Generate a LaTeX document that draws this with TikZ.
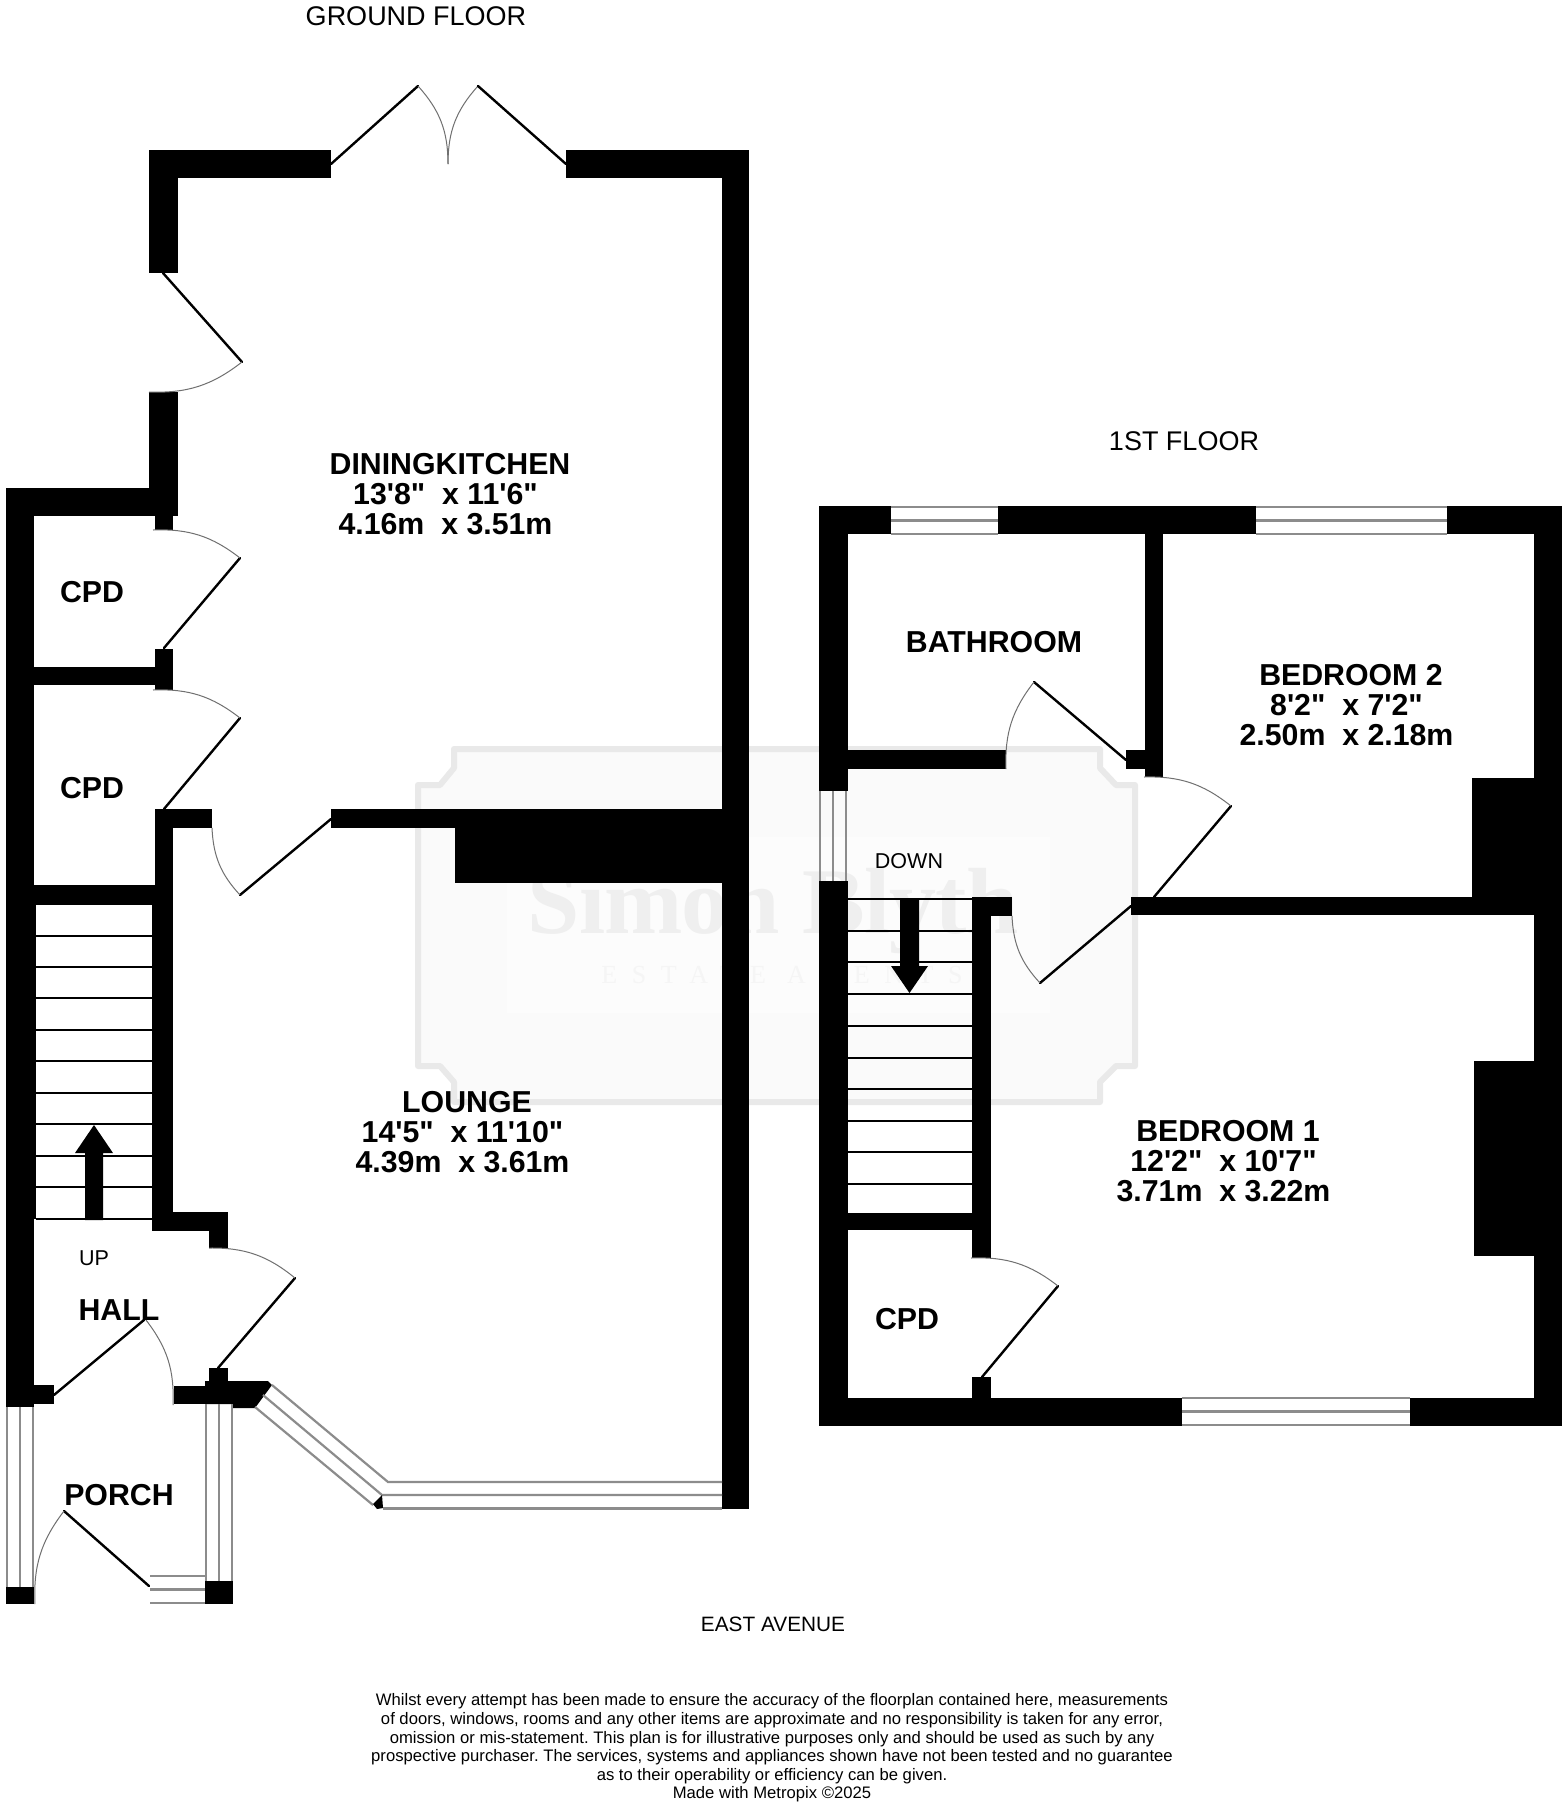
\documentclass[tikz,border=0pt]{standalone}
\usepackage{fontspec}
\setmainfont{Liberation Sans}
\newfontfamily\lab{Liberation Sans}
\newfontfamily\wmserif{Liberation Serif}[LetterSpace=-1]
\newfontfamily\wmspaced{Liberation Serif}[LetterSpace=56]
\definecolor{wing}{HTML}{8C8C8C}
\definecolor{arcc}{HTML}{707070}
\definecolor{wmframe}{HTML}{E9E9E9}
\definecolor{wmfill}{HTML}{FAFAFA}
\definecolor{wmtext}{HTML}{EFEFEF}
\definecolor{wmtextb}{HTML}{F5F5F5}
\tikzset{
  wall/.style={fill=black,draw=none},
  leaf/.style={draw=black,line width=2.4pt,line cap=round},
  swing/.style={draw=arcc,line width=1pt},
  glass/.style={draw=wing,line width=2.2pt},
  tread/.style={draw=black,line width=2pt},
  room/.style={font=\lab\fontsize{30.3}{30}\selectfont\bfseries,align=center,inner sep=0pt,text=black},
  plain/.style={font=\lab\fontsize{27}{29}\selectfont,inner sep=0pt,text=black},
  small/.style={font=\lab\fontsize{21.5}{23}\selectfont,inner sep=0pt,text=black},
  legal/.style={font=\lab\frenchspacing\fontsize{16.65}{18.6}\selectfont,align=center,inner sep=0pt,text=black},
}
\newcommand{\wallbox}[4]{\fill[wall] (#1,#2) rectangle (#3,#4);}
\newcommand{\winv}[4]{\draw[glass] (#1,#3) -- (#1,#4) (#2,#3) -- (#2,#4) ({(#1+#2)/2},#3) -- ({(#1+#2)/2},#4);}
\newcommand{\winh}[4]{\draw[glass] (#1,#3) -- (#2,#3) (#1,#4) -- (#2,#4) (#1,{(#3+#4)/2}) -- (#2,{(#3+#4)/2});}
\newcommand{\sizeline}[1]{\mbox{#1\kern 9pt}}
\begin{document}
\begin{tikzpicture}[x=1pt,y=-1pt]
\useasboundingbox (0,0) rectangle (1568,1808);
\fill[white] (0,0) rectangle (1568,1808);
% watermark
\path[fill=wmfill,draw=wmframe,line width=6pt,line join=round]
  (454,749) -- (1100,749) -- (1100,768) -- (1116,785) -- (1135,785) -- (1135,1066) -- (1116,1066) -- (1100,1082) -- (1100,1102)
  -- (454,1102) -- (454,1082) -- (440,1066) -- (418,1066) -- (418,785) -- (440,785) -- (454,768) -- cycle;
\fill[white!40!wmfill] (507,837) rectangle (1050,1013);
\node[font=\wmserif\fontsize{94}{98}\selectfont\bfseries,text=wmtext,inner sep=0pt,anchor=base] (wmname) at (773,933) {Simon Blyth};
\node[font=\wmspaced\fontsize{26}{28}\selectfont,text=wmtextb,inner sep=0pt,anchor=base] (wmsub) at (782,983) {ESTATE AGENTS};
% ---- ground floor walls
\wallbox{149}{150}{331}{178}
\wallbox{149}{150}{178}{273}
\wallbox{149}{392}{178}{516}
\wallbox{566}{150}{749}{178}
\wallbox{722}{150}{749}{1509}
\wallbox{6}{488}{178}{516}
\wallbox{155}{516}{173}{530}
\wallbox{6}{488}{34}{905}
\wallbox{6}{905}{36}{1219}
\wallbox{6}{1219}{34}{1407}
\wallbox{34}{667}{155}{685}
\wallbox{155}{649}{173}{690}
\wallbox{155}{809}{212}{828}
\wallbox{155}{809}{173}{905}
\wallbox{331}{809}{722}{828}
\wallbox{455}{828}{722}{883}
\wallbox{34}{885}{155}{905}
\wallbox{152}{905}{173}{1231}
\wallbox{155}{1212}{228}{1231}
\wallbox{209}{1212}{228}{1248}
\wallbox{34}{1385}{54}{1404}
\wallbox{174}{1386}{205}{1404}
\wallbox{209}{1368}{228}{1382}
\fill[wall] (205,1381) -- (268,1381) -- (272,1385) -- (255,1408) -- (233,1408) -- (233,1404) -- (205,1404) -- cycle;
\wallbox{6}{1587}{34}{1604}
\wallbox{205}{1581}{233}{1604}
% ground stairs
\foreach \y in {936,967,998,1030,1061,1093,1124,1156,1187,1219} {\draw[tread] (36,\y) -- (153,\y);}
\fill[wall] (85,1220) -- (85,1153) -- (75,1153) -- (94,1125) -- (113,1153) -- (103,1153) -- (103,1220) -- cycle;
% ground windows
\winv{7}{33}{1407}{1587}
\winv{206}{232}{1404}{1581}
\winh{150}{205}{1576}{1603}
\draw[glass] (272,1385) -- (388,1482) -- (722,1482);
\draw[glass] (263,1395) -- (382,1495) -- (722,1495);
\draw[glass] (255,1407) -- (373,1505);
\draw[glass] (383,1508.5) -- (722,1508.5);
\fill[wall] (382,1495) -- (383,1508) -- (377,1509) -- (373,1504) -- cycle;
% ground doors
\draw[leaf] (331,164) -- (418,86);
\draw[swing] (418,86) to[bend left=21] (448,164);
\draw[swing] (448,164) to[bend left=21] (478,86);
\draw[leaf] (478,86) -- (566,164);
\draw[leaf] (163,273) -- (242,362);
\draw[swing] (149,392) to[bend right=20] (242,362);
\draw[leaf] (164,648) -- (240,558);
\draw[swing] (153,530) to[bend left=20] (240,558);
\draw[leaf] (164,809) -- (240,718);
\draw[swing] (153,690) to[bend left=20] (240,718);
\draw[leaf] (331,819) -- (240,895);
\draw[swing] (212,828) to[bend right=20] (240,895);
\draw[leaf] (218,1368) -- (295,1278);
\draw[swing] (209,1248) to[bend left=20] (295,1278);
\draw[leaf] (54,1395) -- (144,1320);
\draw[swing] (146,1320) to[bend left=20] (173,1405);
\draw[leaf] (149,1586) -- (64,1511);
\draw[swing] (35,1604) to[bend left=20] (64,1511);
% ---- first floor walls
\wallbox{819}{506}{891}{534}
\wallbox{997.5}{506}{1256}{534}
\wallbox{1446.5}{506}{1561.5}{534}
\wallbox{819}{506}{848}{791}
\wallbox{819}{881}{848}{1426}
\wallbox{848}{750}{1006}{769}
\wallbox{1145}{534}{1163}{777}
\wallbox{1126}{750}{1145}{769}
\wallbox{1533.5}{506}{1561.5}{1426}
\wallbox{1472}{778}{1533.5}{897}
\wallbox{1474}{1061}{1533.5}{1256}
\wallbox{1131}{897}{1533.5}{915}
\wallbox{972}{897}{1012}{916}
\wallbox{972}{897}{990.5}{1258}
\wallbox{848}{1213}{972}{1230}
\wallbox{971.5}{1377}{990.5}{1398}
\wallbox{819}{1398}{1182}{1426}
\wallbox{1410}{1398}{1561.5}{1426}
% first stairs
\foreach \y in {899,931,962,994,1026,1058,1089,1121,1152,1184} {\draw[tread] (848,\y) -- (972,\y);}
\fill[wall] (900,899) -- (919,899) -- (919,966) -- (928,966) -- (909.5,993) -- (891,966) -- (900,966) -- cycle;
% first windows
\winh{891}{997.5}{507}{534}
\winh{1256}{1446.5}{507}{534}
\winh{1182}{1410}{1398}{1425}
\winv{820}{846}{791}{881}
% first doors
\draw[leaf] (1126,760) -- (1034,682);
\draw[swing] (1006,769) to[bend left=20] (1034,682);
\draw[leaf] (1154,897) -- (1231,806);
\draw[swing] (1144,777) to[bend left=20] (1231,806);
\draw[leaf] (1131,906) -- (1040,983);
\draw[swing] (1012,916) to[bend right=20] (1040,983);
\draw[leaf] (982,1377) -- (1058,1286);
\draw[swing] (971,1258) to[bend left=20] (1058,1286);
% ---- labels
\node[plain] (gf) at (416,16.5) {GROUND FLOOR};
\node[plain] (ff) at (1184,441) {1ST FLOOR};
\node[room] (dining) at (450,494) {DININGKITCHEN\\\sizeline{13'8"~ x 11'6"}\\\sizeline{4.16m~ x 3.51m}};
\node[room] (lounge) at (467,1132) {LOUNGE\\\sizeline{14'5"~ x 11'10"}\\\sizeline{4.39m~ x 3.61m}};
\node[room] (cpda) at (92,592) {CPD};
\node[room] (cpdb) at (92,788) {CPD};
\node[room] (hall) at (119,1310) {HALL};
\node[small] (up) at (94,1258) {UP};
\node[room] (porch) at (119,1495) {PORCH};
\node[room] (bath) at (994,642) {BATHROOM};
\node[room] (bed2) at (1351,705.5) {BEDROOM 2\\\sizeline{8'2"~ x 7'2"}\\\sizeline{2.50m~ x 2.18m}};
\node[room] (bed1) at (1228,1161.5) {BEDROOM 1\\\sizeline{12'2"~ x 10'7"}\\\sizeline{3.71m~ x 3.22m}};
\node[room] (cpdc) at (907,1319) {CPD};
\node[small] (down) at (909,861) {DOWN};
\node[small,font=\lab\fontsize{20.8}{22}\selectfont] (street) at (773,1624) {EAST AVENUE};
\node[legal] (note) at (772,1748) {Whilst every attempt has been made to ensure the accuracy of the floorplan contained here, measurements\\of doors, windows, rooms and any other items are approximate and no responsibility is taken for any error,\\omission or mis-statement. This plan is for illustrative purposes only and should be used as such by any\\prospective purchaser. The services, systems and appliances shown have not been tested and no guarantee\\as to their operability or efficiency can be given.\\Made with Metropix ©2025};
\end{tikzpicture}
\end{document}
